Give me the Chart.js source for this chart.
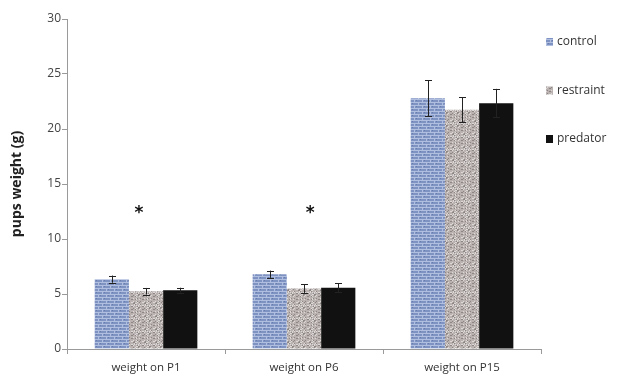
<!DOCTYPE html>
<html>
<head>
<meta charset="utf-8">
<script src="https://cdn.jsdelivr.net/npm/chart.js@4"></script>
<style>
  html, body { margin: 0; padding: 0; background: #fff; }
  #wrap { width: 618px; height: 385px; }
</style>
</head>
<body>
<div id="wrap"><canvas id="c" width="618" height="385"></canvas></div>
<script>
// data
const categories = ['weight on P1', 'weight on P6', 'weight on P15'];
const seriesNames = ['control', 'restraint', 'predator'];
const controlMean = [6.35, 6.8, 22.8];
const controlErr = [0.33, 0.33, 1.65];
const restraintMean = [5.25, 5.5, 21.75];
const restraintErr = [0.3, 0.4, 1.15];
const predatorMean = [5.35, 5.57, 22.35];
const predatorErr = [0.22, 0.4, 1.3];
const yTicks = [0, 5, 10, 15, 20, 25, 30];
// significance marks: category index, value, small shift in category units
const starCat = [0, 1];
const starVal = [12.6, 12.6];
const starShift = [-0.045, 0.04];

// textures
function brickPattern() {
  const c = document.createElement('canvas');
  c.width = 8; c.height = 6;
  const g = c.getContext('2d');
  g.fillStyle = '#7f93c2';
  g.fillRect(0, 0, 8, 6);
  g.fillStyle = '#b0bfdf';
  g.fillRect(0, 0, 8, 1);
  g.fillRect(0, 3, 8, 1);
  g.fillRect(2, 0, 1, 3);
  g.fillRect(6, 3, 1, 3);
  g.fillStyle = '#687dae';
  g.fillRect(4, 1, 1, 1);
  g.fillRect(0, 4, 1, 1);
  return g.createPattern(c, 'repeat');
}
function speckPattern() {
  const c = document.createElement('canvas');
  c.width = 11; c.height = 13;
  const g = c.getContext('2d');
  g.fillStyle = '#b9b2b1';
  g.fillRect(0, 0, 11, 13);
  for (let y = 0; y < 13; y++) {
    for (let x = 0; x < 11; x++) {
      const h = (x * 7 + y * 13 + x * y * 3) % 10;
      if (h < 2) { g.fillStyle = '#8d8685'; g.fillRect(x, y, 1, 1); }
      else if (h > 7) { g.fillStyle = '#dcd8d7'; g.fillRect(x, y, 1, 1); }
    }
  }
  return g.createPattern(c, 'repeat');
}
const fills = [brickPattern(), speckPattern(), '#111111'];

const errorBars = {
  id: 'errorBars',
  afterDatasetsDraw(chart) {
    const ctx = chart.ctx;
    const y = chart.scales.y;
    ctx.save();
    ctx.strokeStyle = '#222';
    ctx.lineWidth = 1;
    chart.data.datasets.forEach((ds, i) => {
      const meta = chart.getDatasetMeta(i);
      meta.data.forEach((bar, j) => {
        const x = Math.round(bar.x) + 0.5;
        const top = y.getPixelForValue(ds.data[j] + ds.err[j]);
        const bot = y.getPixelForValue(ds.data[j] - ds.err[j]);
        ctx.beginPath();
        ctx.moveTo(x, top); ctx.lineTo(x, bot);
        ctx.moveTo(x - 3.5, Math.round(top) + 0.5); ctx.lineTo(x + 3.5, Math.round(top) + 0.5);
        ctx.moveTo(x - 3.5, Math.round(bot) + 0.5); ctx.lineTo(x + 3.5, Math.round(bot) + 0.5);
        ctx.stroke();
      });
    });
    // asterisks
    ctx.fillStyle = '#111';
    ctx.font = 'bold 17px "DejaVu Sans"';
    ctx.textAlign = 'center';
    ctx.textBaseline = 'middle';
    starCat.forEach((ci, k) => {
      const px = chart.scales.x.getPixelForValue(ci + starShift[k]);
      const py = y.getPixelForValue(starVal[k]);
      ctx.fillText('*', px, py + 3);
    });
    ctx.restore();
  }
};

const sideLegend = {
  id: 'sideLegend',
  afterDraw(chart) {
    const ctx = chart.ctx;
    ctx.save();
    ctx.font = '12px "Open Sans"';
    ctx.textBaseline = 'middle';
    seriesNames.forEach((name, i) => {
      const cy = 42 + i * 48.5;
      ctx.fillStyle = fills[i];
      ctx.fillRect(546, cy - 4, 7, 8);
      ctx.fillStyle = '#333';
      ctx.fillText(name, 557, cy);
    });
    ctx.restore();
  }
};

new Chart(document.getElementById('c'), {
  type: 'bar',
  data: {
    labels: categories,
    datasets: [
      { label: seriesNames[0], data: controlMean, err: controlErr, backgroundColor: fills[0] },
      { label: seriesNames[1], data: restraintMean, err: restraintErr, backgroundColor: fills[1] },
      { label: seriesNames[2], data: predatorMean, err: predatorErr, backgroundColor: fills[2] }
    ]
  },
  options: {
    responsive: false,
    animation: false,
    layout: { padding: { left: 0, right: 77, top: 19, bottom: 0 } },
    datasets: { bar: { barPercentage: 1, categoryPercentage: 0.65 } },
    plugins: { legend: { display: false }, tooltip: { enabled: false } },
    scales: {
      x: {
        afterFit(s) { s.height = 36; },
        grid: { display: true, drawOnChartArea: false, drawTicks: true, tickLength: 5, color: '#9a9a9a', offset: true },
        border: { color: '#9a9a9a' },
        ticks: { color: '#333', font: { family: 'Open Sans', size: 11.5 }, padding: 7 }
      },
      y: {
        min: 0, max: 30,
        afterBuildTicks(s) { s.ticks = yTicks.map(v => ({ value: v })); },
        afterFit(s) { s.width = 67; },
        grid: { display: true, drawOnChartArea: false, drawTicks: true, tickLength: 5, color: '#9a9a9a' },
        border: { color: '#9a9a9a' },
        ticks: { color: '#444', font: { family: 'Open Sans', size: 12 }, padding: 1 },
        title: { display: true, text: 'pups weight (g)', color: '#222', font: { family: 'Open Sans', size: 14, weight: 'bold' }, padding: { top: 9, bottom: 4 } }
      }
    }
  },
  plugins: [errorBars, sideLegend]
});
</script>
</body>
</html>
